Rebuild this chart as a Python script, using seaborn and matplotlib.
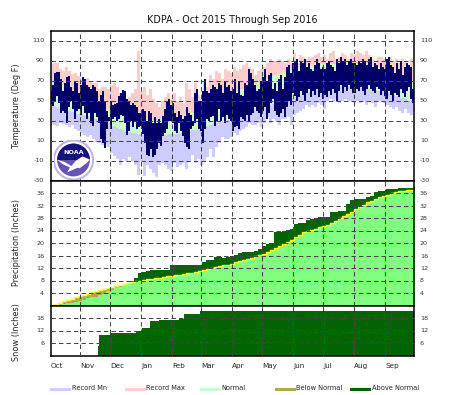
import numpy as np
import matplotlib
matplotlib.use("Agg")
import matplotlib.pyplot as plt
import seaborn as sns
from matplotlib.patches import Circle, Polygon, Rectangle

title = "KDPA - Oct 2015 Through Sep 2016"
months = ["Oct", "Nov", "Dec", "Jan", "Feb", "Mar", "Apr", "May", "Jun", "Jul", "Aug", "Sep"]
month_days = [1, 31, 61, 92, 123, 152, 183, 213, 244, 274, 305, 336]
temp_ticks = [-30, -10, 10, 30, 50, 70, 90, 110]
precip_ticks = [4, 8, 12, 16, 20, 24, 28, 32, 36]
snow_ticks = [6, 12, 18]

# three-day readings
record_max = [87,88,88,82,80,84,80,77,78,75, 73,72,73,70,68,68,62,64,64,62,
              66,68,64,58,55,50,54,58,62,100, 60,64,56,62,52,48,44,50,54,58,52,
              58,50,54,48,68,62,54,68,56,52, 70,64,76,72,80,78,72,82,80,78,
              84,80,82,86,88,84,82,76,80,82, 84,88,92,90,90,92,90,88,92,88,
              98,88,96,94,92,94,94,96,98,94, 96,92,98,100,92,94,98,96,92,98,96,
              100,98,96,100,96,92,88,94,94,92, 92,94,90,92,88,92,90,86,92,70]
record_min = [27,26,25,28,27,26,24,26,22,20, 18,16,14,16,12,10,8,6,6,4,
              -2,-5,-8,-14,-8,-10,-6,-10,-14,-24, -10,-25,-14,-18,-22,-26,-14,-12,-14,-18,-20,
              -12,-16,-14,-12,-18,-10,-4,-12,-8,-14, -10,-6,2,-6,4,8,14,12,12,14,
              18,16,20,22,24,28,26,26,28,24, 28,34,28,32,30,26,32,32,34,26,
              36,38,40,42,46,44,46,44,48,46, 42,50,52,50,52,48,50,52,50,50,48,
              50,48,50,46,50,48,44,50,50,48, 46,44,42,44,40,38,42,38,36,40]
normal_high = [70,69,68,67,66,64,62,60,58,56, 55,54,52,50,48,47,45,44,42,41,
               40,39,38,37,36,35,34,34,33,33, 32,32,31,31,31,31,31,32,32,32,33,
               33,34,35,35,36,37,38,39,40,42, 43,44,46,48,49,50,52,54,55,57,
               58,60,61,62,63,65,66,67,69,70, 71,72,74,75,76,77,78,79,80,81,
               81,82,83,84,85,85,86,86,87,87, 87,87,87,87,87,87,87,87,87,87,87,
               87,86,86,85,85,84,84,83,82,81, 80,79,78,77,75,74,73,71,70,68]
normal_low = [46,45,44,43,42,41,40,39,38,37, 37,36,35,34,33,32,31,30,29,28,
              25,24,23,22,21,20,19,18,18,17, 17,16,16,16,16,16,16,16,16,17,17,
              17,17,18,18,19,20,21,21,22,22, 24,25,26,27,28,29,29,30,31,32,
              33,35,36,37,38,39,40,41,42,43, 44,45,46,47,48,49,50,51,52,53,
              54,55,56,57,58,59,60,61,62,62, 63,63,64,64,65,65,65,65,65,65,64,
              64,64,63,63,62,62,61,60,60,59, 58,57,56,55,54,53,52,50,49,47]

# two-day readings
obs_high = [60,66,78,79,79,72,60,68,74,75,64,60,70,68,58,66,
            74,72,66,64,62,66,64,60,50,56,60,50,40,34,50,
            46,47,48,55,58,61,60,52,50,46,48,46,44,38,
            38,42,40,30,40,38,28,34,28,32,28,35,42,50,52,46,
            48,38,34,40,36,32,35,44,38,36,30,58,62,50,
            50,60,72,60,58,62,66,64,62,68,66,58,70,64,66,60,
            62,72,58,70,56,55,68,66,82,78,72,66,60,62,70,
            74,82,70,76,78,62,68,60,72,76,62,74,84,86,78,
            88,90,92,80,90,88,92,84,88,82,80,86,92,88,82,
            84,82,88,90,86,84,80,92,88,94,90,92,86,90,92,88,
            88,86,90,88,92,90,86,92,94,84,88,86,82,88,84,
            82,92,94,86,84,78,88,82,90,76,84,88,86,84,62]
obs_low = [47,45,50,55,48,38,40,38,28,44,50,42,32,40,42,36,
           45,38,32,38,28,25,38,34,28,12,8,3,22,30,22,
           32,34,30,32,36,35,28,16,20,30,24,30,22,24,
           25,17,8,-4,-5,2,-6,-4,2,8,5,15,18,22,30,30,
           28,20,18,28,20,15,8,4,2,22,25,28,32,22,
           20,8,22,32,30,34,35,25,30,42,30,34,28,36,32,30,
           20,24,25,22,34,32,30,36,30,36,38,44,40,38,34,
           40,44,32,38,48,52,40,36,34,38,42,34,44,50,46,
           58,55,50,54,60,56,50,58,62,54,60,56,62,54,58,
           52,56,54,60,56,62,58,50,60,66,58,64,60,66,62,58,
           58,62,60,64,60,56,62,66,62,60,58,64,62,56,60,
           55,52,60,56,50,58,56,54,62,58,54,60,64,52,48]

# four-day readings
precip_obs = [0.05,0.2,0.3,0.5,0.7,0.9,1.1,1.4,1.9,2.5,2.6,2.8,3.4,3.8,4.7,5.0,5.7,5.8,6.8,7.2,
              7.8,8.8,10.4,10.7,11.0,11.3,11.4,11.4,11.4,11.4,12.9,12.9,12.9,12.9,12.9,13.0,13.0,13.1,13.9,14.5,
              14.6,15.4,15.4,15.3,15.5,16.0,16.3,16.9,17.0,17.0,17.0,17.3,18.2,18.9,19.7,20.0,23.6,23.6,23.7,24.3,
              24.5,26.2,26.3,26.4,27.5,27.6,27.8,28.2,28.2,28.3,29.9,30.0,30.1,30.2,32.6,33.8,34.0,34.0,34.2,34.7,
              35.0,36.3,36.5,36.6,37.3,37.4,37.4,37.5,37.6,37.6,37.6,38.0]
precip_normal = [0.1,0.5,0.9,1.4,1.8,2.2,2.6,3.0,3.4,3.8,4.2,4.6,5.0,5.3,5.6,5.9,6.2,6.5,6.8,7.2,
                 7.5,7.7,8.0,8.3,8.4,8.6,8.8,8.9,9.1,9.3,9.5,9.7,9.9,10.1,10.3,10.5,10.8,11.0,11.4,11.7,
                 12.0,12.3,12.7,13.0,13.1,13.3,13.8,14.2,14.6,14.9,15.3,15.7,16.1,16.5,17.2,17.8,18.5,19.1,19.7,20.3,
                 20.9,21.9,22.7,23.5,24.0,24.3,24.6,25.0,25.3,25.8,26.4,27.1,27.9,28.5,29.2,30.0,30.8,31.5,32.3,33.0,
                 33.5,34.2,34.6,35.0,35.5,35.9,36.2,36.5,36.7,36.9,37.1,37.2]

snow_days = [49, 50, 61, 87, 93, 101, 110, 130, 135, 151, 365]
snow_total = [4.6, 9.8, 10.7, 12.0, 13.0, 16.5, 17.0, 17.5, 19.8, 21.4, 21.8]

sns.set_style("white")
plt.rcParams["font.family"] = ["DejaVu Sans"]
plt.rcParams["axes.unicode_minus"] = False
W, H = 463, 395
fig = plt.figure(figsize=(W / 100, H / 100), dpi=100, facecolor="white")


def panel(left, top, right, bottom):
    return fig.add_axes([left / W, 1 - bottom / H, (right - left) / W, (bottom - top) / H])


ax_t = panel(50.5, 30.5, 413.5, 180.5)
ax_p = panel(50.5, 180.5, 413.5, 305.5)
ax_s = panel(50.5, 305.5, 413.5, 355.5)

C_RMIN, C_RMAX, C_NORM = "#ccccff", "#ffcccc", "#ccffcc"
C_BELOW, C_ABOVE, C_LIME = "#b0a850", "#006400", "#80ff80"
C_OBS, C_GRID = "#000066", "#444444"


def steps(values, step):
    v = np.asarray(values, dtype=float)
    x = 1 + step * np.arange(len(v) + 1)
    return x, np.append(v, v[-1])


# temperature
x3, rmax = steps(record_max, 3)
_, rmin = steps(record_min, 3)
_, nhi = steps(normal_high, 3)
_, nlo = steps(normal_low, 3)
ax_t.fill_between(x3, rmin, nlo, step="post", color=C_RMIN, lw=0)
ax_t.fill_between(x3, nlo, nhi, step="post", color=C_NORM, lw=0)
ax_t.fill_between(x3, nhi, rmax, step="post", color=C_RMAX, lw=0)
x2 = 1 + 2 * np.arange(len(obs_high))
ax_t.bar(x2, np.array(obs_high) - np.array(obs_low), bottom=obs_low, width=2, align="edge",
         color=C_OBS, linewidth=0, antialiased=False)

# precipitation
x4, pobs = steps(precip_obs, 4)
_, pnorm = steps(precip_normal, 4)
ax_p.fill_between(x4, 0, np.minimum(pobs, pnorm), step="post", color=C_LIME, lw=0)
ax_p.fill_between(x4, pobs, pnorm, where=pobs >= pnorm, step="post", color=C_ABOVE, lw=0)
ax_p.fill_between(x4, pobs, pnorm, where=pobs <= pnorm, step="post", color=C_BELOW, lw=0)
ax_p.fill_between(x4, 0, pnorm, where=pobs >= pnorm, step="post", color=C_LIME, lw=0)
sns.lineplot(x=x4, y=pnorm, ax=ax_p, color="#ffff33", lw=1.0, drawstyle="steps-post",
             estimator=None, legend=False)

# snow
ax_s.fill_between(snow_days, 0, snow_total, step="post", color=C_ABOVE, lw=0)

xmax = 364.4
for ax, lo, hi, ticks in ((ax_t, -30, 120, temp_ticks), (ax_p, 0, 40, precip_ticks), (ax_s, 0, 24, snow_ticks)):
    ax.set_xlim(1, xmax)
    ax.set_ylim(lo, hi)
    ax.set_xticks(month_days[1:])
    ax.set_yticks(ticks)
    ax.set_axisbelow(False)
    ax.grid(True, color=C_GRID, lw=0.75, linestyle=(0, (4.2, 3.0)))
    ax.tick_params(length=0, labelbottom=False, labelleft=True, labelright=True, left=False, right=False,
                   labelsize=4.6, pad=4.5, labelcolor="#333333")
    ax.set_xlabel("")
    ax.set_ylabel("")
    for s in ax.spines.values():
        s.set_visible(True)
        s.set_color("black")
        s.set_linewidth(1.1)

ax_t.text(0.5, 1.035, title, transform=ax_t.transAxes, ha="center", va="bottom", fontsize=6.9, color="#111111")

for txt, yc in (("Temperature (Deg F)", 106), ("Precipitation (Inches)", 243), ("Snow (Inches)", 332)):
    fig.text(16.5 / W, 1 - yc / H, txt, rotation=90, ha="center", va="center", fontsize=5.9, color="#222222")

for name, d in zip(months, month_days):
    px = 50.5 + (d - 1) * 363 / (xmax - 1)
    fig.text(px / W, 1 - 366 / H, name, ha="left", va="center", fontsize=5.2, color="#222222")

legend_items = [("Record Mn", C_RMIN, 50), ("Record Max", C_RMAX, 125), ("Normal", C_NORM, 200),
                ("Below Normal", C_BELOW, 275), ("Above Normal", C_ABOVE, 350)]
for name, col, px in legend_items:
    fig.add_artist(Rectangle((px / W, 1 - 391 / H), 21 / W, 3 / H, transform=fig.transFigure,
                             facecolor=col, edgecolor="none"))
    fig.text((px + 21.5) / W, 1 - 387.5 / H, name, ha="left", va="center", fontsize=4.8, color="#222222")

# NOAA emblem
logo = fig.add_axes([53.5 / W, 1 - 180 / H, 40 / W, 40 / H], zorder=5)
logo.set_xlim(-1, 1)
logo.set_ylim(-1, 1)
logo.axis("off")
logo.patch.set_alpha(0)
logo.add_patch(Circle((0, 0), 0.98, facecolor="white", edgecolor="#b8b4dc", lw=1.4))
logo.add_patch(Circle((0, 0), 0.82, facecolor="#6a52b4", edgecolor="none"))
top_disc = Circle((0, 0), 0.82, facecolor="#16127e", edgecolor="none")
logo.add_patch(top_disc)
top_disc.set_clip_path(Rectangle((-1, 0.0), 2, 1, transform=logo.transData))
logo.add_patch(Polygon([(-0.82, 0.02), (-0.45, -0.1), (-0.1, -0.3), (0.1, -0.05), (0.45, 0.18), (0.82, 0.02),
                        (0.62, -0.18), (0.3, -0.42), (0.22, -0.38), (-0.32, -0.62), (-0.18, -0.38),
                        (-0.55, -0.2)], closed=True, facecolor="white", edgecolor="none"))
logo.text(0, 0.38, "NOAA", color="white", fontsize=4.6, fontweight="bold", ha="center", va="center")

fig.savefig("out.png", dpi=100, facecolor="white")
